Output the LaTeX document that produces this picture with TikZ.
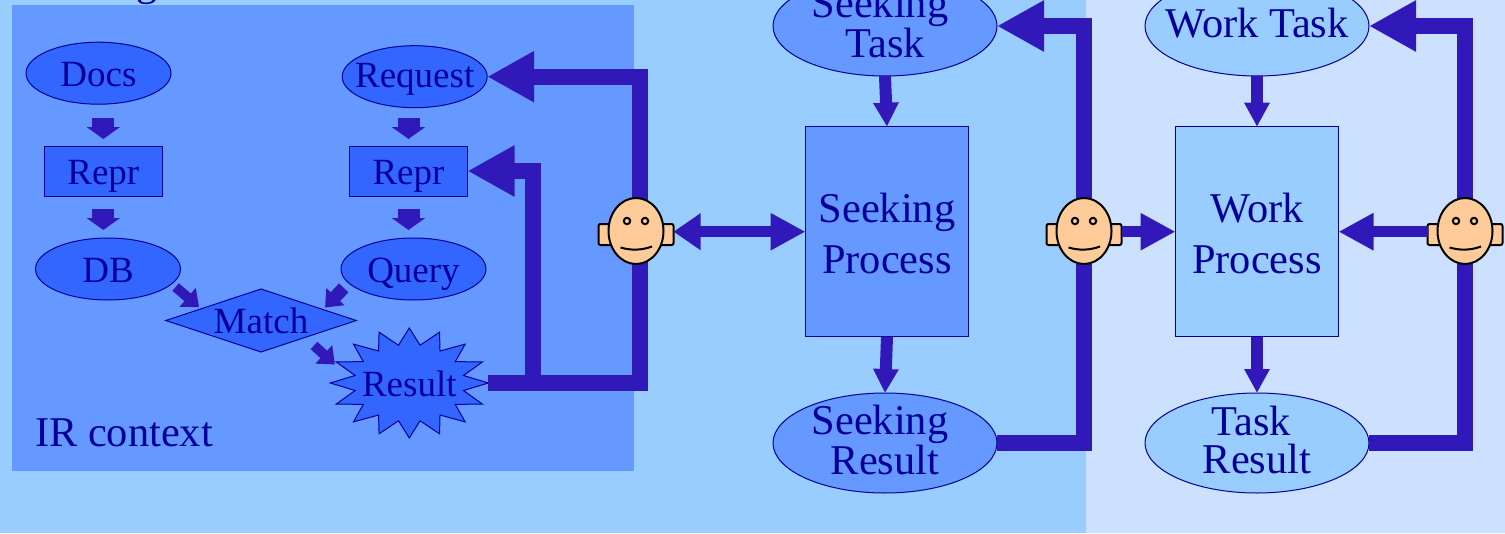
\documentclass[tikz,border=0pt]{standalone}
\usepackage{fontspec}
\setmainfont{Liberation Serif}
\usetikzlibrary{arrows.meta,shapes.geometric}

\definecolor{paleblue}{HTML}{CCE0FF}
\definecolor{skyblue}{HTML}{99CCFF}
\definecolor{midblue}{HTML}{6699FF}
\definecolor{deepblue}{HTML}{3366FF}
\definecolor{inkblue}{HTML}{000099}
\definecolor{arrowblue}{HTML}{3119B9}
\definecolor{skin}{HTML}{FFCC99}

\tikzset{
  smalltext/.style={text=inkblue,font=\fontsize{37}{40}\selectfont,inner sep=0pt,outer sep=0pt,text height=26pt,text depth=0pt},
  bigtext/.style={text=inkblue,font=\fontsize{42.4}{38}\selectfont,inner sep=0pt,outer sep=0pt,align=center},
  irnode/.style={smalltext,draw=inkblue,fill=deepblue,line width=1pt},
  irnodeoval/.style={irnode,ellipse,inner sep=-10pt,minimum width=145pt,minimum height=62pt},
  bigoval/.style={bigtext,ellipse,inner sep=-20pt,text depth=6pt,draw=inkblue,line width=1pt,minimum width=224pt,minimum height=100pt},
  bigbox/.style={bigtext,font=\fontsize{42.4}{51}\selectfont,rectangle,draw=inkblue,line width=1pt,minimum width=163pt,minimum height=210pt},
  smallarrow/.style={draw=arrowblue,line width=22pt,-{Triangle[length=12pt,width=33pt]}},
  slantarrow/.style={draw=arrowblue,line width=10pt,-{Triangle[length=15pt,width=24pt]}},
  midarrow/.style={draw=arrowblue,line width=12pt,-{Triangle[length=24pt,width=24pt]}},
  bigarrow/.style={draw=arrowblue,line width=16pt,-{Triangle[length=47pt,width=48pt]}},
  facearrow/.style={draw=arrowblue,line width=11.5pt,-{Triangle[length=35pt,width=35pt]}},
  facepart/.style={draw=black,fill=skin,line width=2pt,inner sep=0pt,outer sep=0pt}
}

\begin{document}
\begin{tikzpicture}[x=1pt,y=-1pt]
  \path[use as bounding box,clip] (0,0) rectangle (1505,533);
  % backgrounds
  \fill[paleblue] (0,0) rectangle (1505,533);
  \fill[skyblue] (0,0) rectangle (1086,533);
  \fill[midblue] (12,5) rectangle (634,471);
  \node[bigtext,anchor=base] (fragment) at (147,-5) {g};
  \node[bigtext,anchor=base west] (ircontext) at (35,446) {IR context};

  % IR context
  \node[irnodeoval] (docs) at (98.5,73.2) {Docs};
  \node[irnodeoval,text height=21.5pt] (request) at (414.7,76.7) {Request};
  \node[irnode,rectangle,minimum width=118pt,minimum height=50pt] (reprdocs) at (103.3,171) {Repr};
  \node[irnode,rectangle,minimum width=118pt,minimum height=50pt] (reprrequest) at (408.5,171) {Repr};
  \node[irnodeoval] (db) at (108,269) {DB};
  \node[irnodeoval] (query) at (413.5,269) {Query};
  \node[irnode,diamond,shape aspect=3,minimum width=190.5pt,minimum height=63pt] (match) at (261,320.5) {Match};
  \filldraw[draw=inkblue,fill=deepblue,line width=1pt]
    plot[samples at={0,...,31},variable=\i]
    ({409.3+79*(1-0.3*mod(\i,2))*cos(\i*11.25)},{383+55*(1-0.3*mod(\i,2))*sin(\i*11.25)}) -- cycle;
  \node[smalltext,ellipse,minimum width=158pt,minimum height=110pt] (result) at (409.3,383) {Result};

  \draw[smallarrow,shorten <=13.5pt,shorten >=7pt] (reprdocs.north |- docs.south) -- (reprdocs.north);
  \draw[smallarrow,shorten <=13pt,shorten >=8pt] (reprdocs.south) -- (reprdocs.south |- db.north);
  \draw[smallarrow,shorten <=10pt,shorten >=7pt] (reprrequest.north |- request.south) -- (reprrequest.north);
  \draw[smallarrow,shorten <=13pt,shorten >=8pt] (reprrequest.south) -- (reprrequest.south |- query.north);
  \draw[slantarrow,shorten <=5pt,shorten >=2.6pt] (db.-13.6) -- (match.169.3);
  \draw[slantarrow,line width=13pt,shorten <=7pt,shorten >=2.8pt] (query.192.4) -- (match.10.3);
  \draw[slantarrow,shorten <=12pt] (match.-21.7) -- (result.166.5);

  % seeking and work columns
  \node[bigoval,fill=midblue] (seekingtask) at (885,26) {Seeking\hspace*{10pt}\\Task};
  \node[bigbox,fill=midblue] (seekingprocess) at (887,231.7) {\rule{0pt}{33pt}Seeking\\Process};
  \node[bigoval,fill=midblue] (seekingresult) at (885,443) {Seeking\hspace*{10pt}\\Result};
  \node[bigoval,fill=skyblue] (worktask) at (1257,26) {Work Task};
  \node[bigbox,fill=skyblue] (workprocess) at (1257,231.7) {\rule{0pt}{33pt}Work\\Process};
  \node[bigoval,fill=skyblue] (taskresult) at (1257,443) {Task\hspace*{12pt}\\Result};

  \draw[midarrow] (seekingtask.south) -- (seekingprocess.north);
  \draw[midarrow] (seekingprocess.south) -- (seekingresult.north);
  \draw[midarrow] (worktask.south) -- (workprocess.north);
  \draw[midarrow] (workprocess.south) -- (taskresult.north);

  % feedback bands
  \coordinate (turnrepr) at (532.5,231);
  \coordinate (turnrequest) at (639.5,231);
  \coordinate (turnseeking) at (1083.7,231);
  \coordinate (turnwork) at (1465,231);
  \draw[bigarrow] (result.east) -| (turnrepr) |- (reprrequest.east);
  \draw[bigarrow] (result.east) -| (turnrequest) |- (request.east);
  \draw[bigarrow] (seekingresult.east) -| (turnseeking) |- (seekingtask.east);
  \draw[bigarrow] (taskresult.east) -| (turnwork) |- (worktask.east);

  % faces
  \foreach \name/\x in {ir/636,seeking/1084,work/1465}{
    \node[facepart,rectangle,rounded corners=2pt,minimum width=75pt,minimum height=21pt] (ear\name) at (\x,234.5) {};
    \node[facepart,ellipse,minimum width=55pt,minimum height=66pt] (head\name) at (\x,231) {};
    \draw[facepart] (\x-9,221) circle [radius=3.2];
    \draw[facepart] (\x+9,221) circle [radius=3.2];
    \draw[black,line width=2pt] (\x-15.5,247.5) .. controls (\x-5,250.5) and (\x+5,250.5) .. (\x+16,246.5);
  }

  \draw[facearrow,{Triangle[length=27pt,width=35pt]}-{Triangle[length=35pt,width=35pt]}] (earir.east |- seekingprocess.west) -- (seekingprocess.west);
  \draw[facearrow] (earseeking.east |- workprocess.west) -- (workprocess.west);
  \draw[facearrow] (earwork.west |- workprocess.east) -- (workprocess.east);
\end{tikzpicture}
\end{document}
